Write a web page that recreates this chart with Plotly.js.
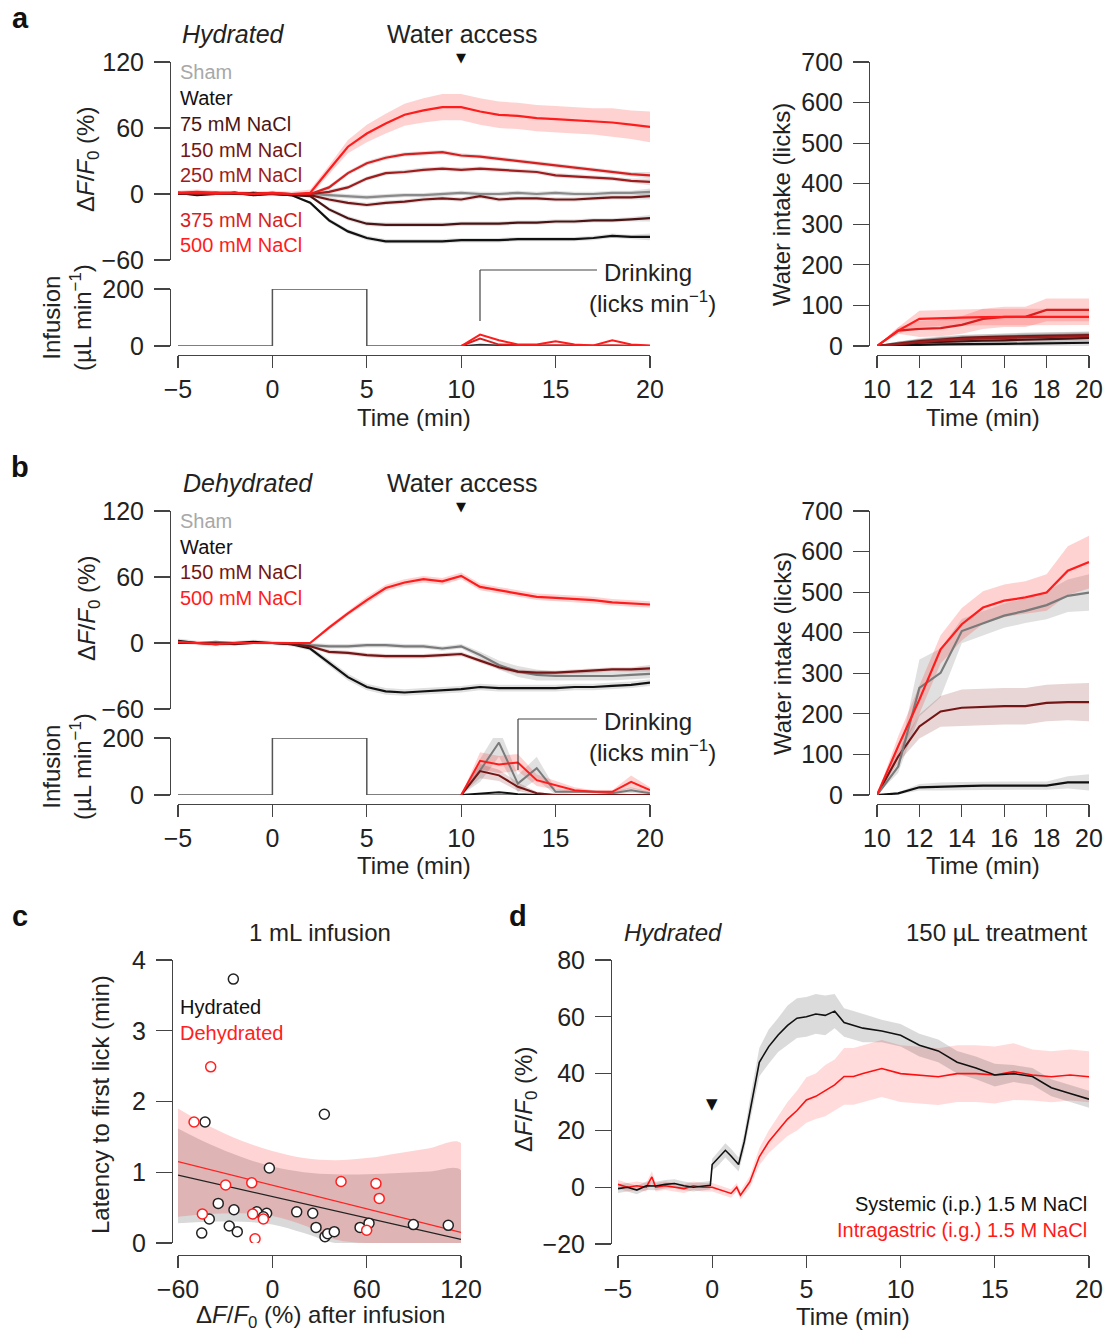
<!DOCTYPE html>
<html><head><meta charset="utf-8">
<script src="https://cdn.plot.ly/plotly-3.0.1.min.js"></script>
<style>html,body{margin:0;padding:0;background:#fff}#chart{width:1114px;height:1332px}</style>
</head><body><div id="chart"></div>
<script>
// ---------------- DATA ----------------
// Panel a / b photometry time base (min)
const tPhot = [-5,-4,-3,-2,-1,0,1,2,3,4,5,6,7,8,9,10,11,12,13,14,15,16,17,18,19,20];
// Panel a (Hydrated) dF/F0 (%)
const aSham  = [1,0,1,0,1,0,0,0,-1,-2,-3,-2,-1,-1,0,1,0,0,1,0,1,0,0,1,1,2];
const aWater = [1,-1,0,1,-1,0,-1,-8,-24,-34,-40,-43,-43,-43,-43,-42,-42,-42,-41,-41,-41,-41,-40,-38,-39,-39];
const a75    = [0,1,0,1,0,0,-1,-2,-14,-22,-27,-28,-28,-28,-28,-27,-27,-27,-26,-26,-25,-25,-24,-24,-23,-22];
const a150   = [0,1,1,0,1,0,0,-1,-5,-8,-10,-8,-7,-5,-4,-5,-2,-5,-4,-4,-5,-5,-4,-3,-3,-2];
const a250   = [1,0,1,1,0,0,0,0,2,6,14,19,20,22,23,22,23,22,21,20,17,16,15,14,12,11];
const a375   = [1,1,0,1,0,1,0,0,6,19,28,33,36,37,38,35,34,32,30,28,26,24,22,20,18,17];
const a500   = [1,2,1,1,0,1,0,1,22,43,55,64,72,76,79,79,75,72,71,69,68,67,66,65,63,61];
const a500sem= [2,2,2,2,2,2,2,3,4,6,8,9,10,11,12,12,12,12,12,12,12,12,12,13,13,14];
const aSemSmall = [1,1,1,1,1,1,1,1,2,2,2,2,2,2,2,2,2,2,2,2,2,2,2,2,2,3];

// Panel b (Dehydrated) dF/F0 (%)
const bSham  = [1,0,1,0,0,0,0,-2,-3,-3,-2,-2,-3,-3,-5,-3,-11,-20,-26,-29,-30,-30,-30,-30,-29,-28];
const bWater = [2,0,-1,0,1,0,-1,-5,-18,-31,-40,-44,-45,-44,-43,-42,-40,-41,-41,-41,-41,-40,-40,-39,-38,-36];
const b150   = [0,0,0,-1,0,0,-1,-3,-8,-9,-11,-12,-12,-12,-11,-10,-16,-22,-26,-27,-27,-26,-25,-24,-24,-23];
const b500   = [1,0,-1,0,0,0,0,0,14,27,39,50,55,58,56,61,51,48,45,42,41,40,39,37,36,35];
const bShamSem  = [1,1,1,1,1,1,1,2,2,2,2,2,2,2,2,2,3,4,5,5,4,4,4,4,4,4];
const bWaterSem = [2,2,2,2,2,2,2,2,3,3,3,3,3,3,3,3,3,3,3,3,3,3,3,3,3,3];
const b500Sem   = [1,1,1,1,1,1,1,1,2,2,3,3,3,3,3,3,3,3,3,3,3,3,3,3,3,3];

// Infusion protocol (uL/min)
const infT = [-5,0,0,5,5,20];
const infV = [0,0,200,200,0,0];

// Drinking (licks/min), 1-min bins from 10 to 20 min
const tLick = [10,11,12,13,14,15,16,17,18,19,20];
const aLick500 = [0,40,20,5,5,17,5,2,20,5,2];
const aLick375 = [0,26,5,3,2,3,2,2,3,2,0];
const aLickLow = [0,5,3,2,1,1,1,1,2,1,0];
const bLick500 = [0,120,107,114,52,34,17,11,11,46,17];
const bLick500Sem = [0,30,30,30,20,15,10,6,6,22,10];
const bLickSham = [0,86,184,40,94,11,11,11,6,17,6];
const bLickShamSem = [0,40,50,30,40,10,6,6,6,10,6];
const bLick150 = [0,84,69,29,6,0,0,0,0,2,0];
const bLick150Sem = [0,25,20,15,5,2,2,2,2,2,2];
const bLickWater = [0,5,10,3,0,0,0,0,0,0,0];

// Cumulative water intake (licks)
const tIntake = [10,11,12,13,14,15,16,17,18,19,20];
const iaSham  = [0,8,14,18,20,22,24,25,26,27,28];
const iaWater = [0,2,3,4,4,5,5,6,7,8,8];
const ia75    = [0,4,8,10,12,13,14,15,16,18,20];
const ia150   = [0,6,12,16,20,22,23,24,25,26,27];
const ia250   = [0,5,10,14,17,19,20,21,22,23,24];
const ia375   = [0,38,42,44,52,67,72,72,89,89,89];
const ia500   = [0,38,67,69,70,71,72,72,72,72,72];
const ia375Sem= [0,8,20,20,22,25,25,25,28,28,28];
const ia500Sem= [0,8,20,20,20,20,20,20,20,20,20];
const iaDarkSem=[0,3,5,6,7,7,8,8,8,8,8];
const ibSham  = [0,70,264,301,404,423,442,454,468,491,499];
const ibWater = [0,4,19,21,22,23,23,23,23,31,31];
const ib150   = [0,95,169,206,215,217,219,219,227,229,229];
const ib500   = [0,120,235,359,421,462,479,487,499,553,574];
const ibShamSem = [0,15,70,60,30,30,30,30,35,40,45];
const ibWaterSem= [0,3,8,10,10,10,10,10,10,15,20];
const ib150Sem  = [0,15,30,38,45,45,45,45,45,45,47];
const ib500Sem  = [0,25,35,35,40,40,40,40,45,60,65];

// Panel c: latency vs dF/F0 after infusion
const hydX = [-24.8,-42.8,33.1,-1.9,-34.4,-40.1,-44.9,-24.4,-27.4,-22.3,-9.9,-3.6,15.5,25.7,27.8,33.5,35.2,39.4,55.8,61.5,89.7,111.9,-5.7];
const hydY = [3.73,1.71,1.82,1.06,0.56,0.34,0.14,0.47,0.24,0.16,0.44,0.42,0.44,0.42,0.22,0.09,0.13,0.16,0.22,0.28,0.26,0.25,0.37];
const dehX = [-39.2,-49.8,-29.7,-13.1,-44.5,-12.5,-5.7,-11.0,43.7,65.9,68.0,60.0];
const dehY = [2.49,1.71,0.82,0.85,0.41,0.41,0.34,0.06,0.87,0.84,0.63,0.18];
const fitX = [-60,120];
const hydFit = [0.96,0.05];
const dehFit = [1.15,0.15];
const bandX = [-60,-40,-20,0,20,40,60,80,100,120];
const hydUp = [1.62,1.40,1.22,1.08,1.00,0.97,0.97,0.99,1.01,1.03];
const hydLo = [0.28,0.30,0.30,0.26,0.14,0,0,0,0,0];
const dehUp = [1.90,1.65,1.45,1.30,1.20,1.17,1.20,1.27,1.34,1.41];
const dehLo = [0.37,0.41,0.42,0.38,0.25,0.05,0,0,0,0];

// Panel d: 150 uL treatment
const tSys = [-5,-4.5,-4,-3.5,-3,-2.5,-2,-1.5,-1,-0.5,-0.1,0,0.3,0.7,1,1.4,1.7,2,2.5,3,3.5,4,4.5,5,5.5,6,6.5,7,7.5,8,9,10,11,12,13,14,15,16,17,18,19,20];
const sysV = [-0.5,0,-1,0.5,0.4,1,1.3,0.5,0,0.5,0.7,8,10,13,11,8,16,27,44,49.5,53.6,57,59.5,60,61,60.5,62,58,57,56,55,53.5,50,48,44,42,39.5,40,39,35,33,31];
const sysSem= [1.5,1.5,1.5,1.5,1.5,1.5,1.5,1.5,1.5,1.5,1.5,2,2.5,2.5,2.5,2.5,3,4,5,6,6,7,7,7,7,7,6,5,5,5,4,4,4,4,4,4,4,3,3,3,3,3];
const tIg = [-5,-4.5,-4,-3.5,-3.2,-3,-2.5,-2,-1.5,-1,-0.5,0,0.5,1,1.3,1.5,2,2.5,3,3.5,4,4.5,5,5.5,6,6.5,7,7.5,8,9,10,11,12,13,14,15,16,17,18,19,20];
const igV = [1,0,0.5,0,3.6,0,0.5,0,-0.5,0.5,0,0,-1,-2.2,0,-2.8,1.9,10.7,16,20,24,27,30.7,32,34,36,39,39,40,41.8,40,39.5,38.9,40,40,39.5,40.7,39.5,38.9,39.5,38.9];
const igSem = [1.5,1.5,1.5,1.5,2,1.5,1.5,1.5,1.5,1.5,1.5,1.5,1.5,1.5,1.5,1.5,2,3,4,5,6,7,8,8,9,9,10,10,10,10,10,10,10,10,10,10,10,9,9,9,9];

// Tick labels / legend text
const legendA = ['Sham','Water','75 mM NaCl','150 mM NaCl','250 mM NaCl','375 mM NaCl','500 mM NaCl'];
const legendB = ['Sham','Water','150 mM NaCl','500 mM NaCl'];

// ---------------- STYLE ----------------
const W=1114, H=1332;
const PX = x => x/W, PY = y => 1 - y/H;
const FONT = 'Liberation Sans, Arial, sans-serif';
const COL = {shamTxt:'#a8a8a8', sham:'#8a8a8a', water:'#111111', m75:'#4a1414', m150:'#741616', m250:'#a01c1c', m375:'#d81f1f', m500:'#ff1c1c'};
const AX = {showline:true, linecolor:'#444', linewidth:1.2, ticks:'outside', tickcolor:'#444', tickwidth:1.2,
  showgrid:false, zeroline:false, tickfont:{size:25, color:'#222', family:FONT}, fixedrange:true, automargin:false};
function xa(d0,d1,range,tickvals,posY){return Object.assign({},AX,{domain:[PX(d0),PX(d1)],range:range,tickvals:tickvals,anchor:'free',position:PY(posY),ticklen:12,ticklabelstandoff:0});}
function ya(d0,d1,range,tickvals,posX){return Object.assign({},AX,{domain:[PY(d1),PY(d0)],range:range,tickvals:tickvals,anchor:'free',position:PX(posX),ticklen:16,ticklabelstandoff:5});}
function xh(d0,d1,range){return {visible:false, domain:[PX(d0),PX(d1)], range:range, fixedrange:true};}

const traces = [];
function band(x, mean, sem, xr, yr, color){
  const up = mean.map((v,i)=>v+sem[i]), lo = mean.map((v,i)=>v-sem[i]);
  traces.push({x:x.concat(x.slice().reverse()), y:up.concat(lo.slice().reverse()), xaxis:xr, yaxis:yr,
    mode:'lines', fill:'toself', fillcolor:color, line:{width:0}, hoverinfo:'skip', showlegend:false});
}
function bandUL(x, up, lo, xr, yr, color){
  traces.push({x:x.concat(x.slice().reverse()), y:up.concat(lo.slice().reverse()), xaxis:xr, yaxis:yr,
    mode:'lines', fill:'toself', fillcolor:color, line:{width:0, shape:'spline'}, hoverinfo:'skip', showlegend:false});
}
function line(x, y, xr, yr, color, w){
  traces.push({x:x, y:y, xaxis:xr, yaxis:yr, mode:'lines', line:{color:color, width:w||2.2}, showlegend:false, hoverinfo:'skip'});
}
const RB='rgba(255,30,30,0.2)', GB='rgba(0,0,0,0.12)', DB='rgba(130,20,20,0.18)';

// ---- Panel a, top
band(tPhot, a500, a500sem, 'x','y', RB);
[aSham,aWater,a75,a150,a250,a375].forEach(s=>band(tPhot,s,aSemSmall,'x','y',GB));
line(tPhot,aSham,'x','y',COL.sham);
line(tPhot,aWater,'x','y',COL.water);
line(tPhot,a75,'x','y',COL.m75);
line(tPhot,a150,'x','y',COL.m150);
line(tPhot,a250,'x','y',COL.m250);
line(tPhot,a375,'x','y',COL.m375);
line(tPhot,a500,'x','y',COL.m500);
// ---- Panel a, infusion + drinking
line(infT, infV, 'x2','y2', '#555', 1.5);
line(tLick, aLickLow, 'x2','y2', '#333', 1.5);
line(tLick, aLick375, 'x2','y2', COL.m375, 2);
line(tLick, aLick500, 'x2','y2', COL.m500, 2);
// ---- Panel a, intake
band(tIntake, ia375, ia375Sem, 'x3','y3', RB);
band(tIntake, ia500, ia500Sem, 'x3','y3', RB);
[iaSham,iaWater,ia75,ia150,ia250].forEach(s=>band(tIntake,s,iaDarkSem,'x3','y3',GB));
line(tIntake, iaSham,'x3','y3',COL.sham);
line(tIntake, iaWater,'x3','y3',COL.water);
line(tIntake, ia75,'x3','y3',COL.m75);
line(tIntake, ia150,'x3','y3',COL.m150);
line(tIntake, ia250,'x3','y3',COL.m250);
line(tIntake, ia375,'x3','y3',COL.m375);
line(tIntake, ia500,'x3','y3',COL.m500);

// ---- Panel b, top
band(tPhot, bSham, bShamSem, 'x4','y4', GB);
band(tPhot, bWater, bWaterSem, 'x4','y4', GB);
band(tPhot, b150, aSemSmall, 'x4','y4', DB);
band(tPhot, b500, b500Sem, 'x4','y4', RB);
line(tPhot,bSham,'x4','y4','#7a7a7a');
line(tPhot,bWater,'x4','y4',COL.water);
line(tPhot,b150,'x4','y4',COL.m150);
line(tPhot,b500,'x4','y4',COL.m500);
// ---- Panel b, infusion + drinking
line(infT, infV, 'x5','y5', '#555', 1.5);
band(tLick, bLickSham, bLickShamSem, 'x5','y5', GB);
band(tLick, bLick500, bLick500Sem, 'x5','y5', RB);
band(tLick, bLick150, bLick150Sem, 'x5','y5', DB);
line(tLick, bLickWater, 'x5','y5', COL.water, 2);
line(tLick, bLickSham, 'x5','y5', '#7a7a7a', 2);
line(tLick, bLick150, 'x5','y5', COL.m150, 2);
line(tLick, bLick500, 'x5','y5', COL.m500, 2);
// ---- Panel b, intake
band(tIntake, ibSham, ibShamSem, 'x6','y6', GB);
band(tIntake, ibWater, ibWaterSem, 'x6','y6', GB);
band(tIntake, ib150, ib150Sem, 'x6','y6', DB);
band(tIntake, ib500, ib500Sem, 'x6','y6', RB);
line(tIntake, ibWater,'x6','y6',COL.water);
line(tIntake, ib150,'x6','y6',COL.m150);
line(tIntake, ibSham,'x6','y6','#7a7a7a');
line(tIntake, ib500,'x6','y6',COL.m500);

// ---- Panel c
bandUL(bandX, hydUp, hydLo, 'x7','y7', 'rgba(0,0,0,0.15)');
bandUL(bandX, dehUp, dehLo, 'x7','y7', 'rgba(255,0,0,0.17)');
line(fitX, hydFit, 'x7','y7', '#222', 1.3);
line(fitX, dehFit, 'x7','y7', '#ff2020', 1.3);
traces.push({x:hydX, y:hydY, xaxis:'x7', yaxis:'y7', mode:'markers', marker:{size:10, color:'#fff', line:{color:'#222', width:1.5}}, showlegend:false, hoverinfo:'skip'});
traces.push({x:dehX, y:dehY, xaxis:'x7', yaxis:'y7', mode:'markers', marker:{size:10, color:'#fff', line:{color:'#ff2020', width:1.5}}, showlegend:false, hoverinfo:'skip'});

// ---- Panel d
band(tIg, igV, igSem, 'x8','y8', 'rgba(255,30,30,0.16)');
band(tSys, sysV, sysSem, 'x8','y8', 'rgba(0,0,0,0.14)');
line(tIg, igV, 'x8','y8', '#ff1010', 1.6);
line(tSys, sysV, 'x8','y8', '#111', 1.6);

// ---------------- LAYOUT ----------------
const T5 = [-5,0,5,10,15,20], TI = [10,12,14,16,18,20];
const layout = {
  width:W, height:H, margin:{l:0,r:0,t:0,b:0}, paper_bgcolor:'#fff', plot_bgcolor:'rgba(0,0,0,0)',
  font:{family:FONT, color:'#222'}, showlegend:false,
  xaxis: xh(178,650,[-5,20]),
  yaxis: ya(62,260,[-60,120],[-60,0,60,120],170),
  xaxis2: xa(178,650,[-5,20],T5,355),
  yaxis2: ya(289,346,[0,200],[0,200],170),
  xaxis3: xa(877,1089,[10,20],TI,355),
  yaxis3: ya(62,346,[0,700],[0,100,200,300,400,500,600,700],869),
  xaxis4: xh(178,650,[-5,20]),
  yaxis4: ya(511,709,[-60,120],[-60,0,60,120],170),
  xaxis5: xa(178,650,[-5,20],T5,804),
  yaxis5: ya(738,795,[0,200],[0,200],170),
  xaxis6: xa(877,1089,[10,20],TI,804),
  yaxis6: ya(511,795,[0,700],[0,100,200,300,400,500,600,700],869),
  xaxis7: xa(178,461,[-60,120],[-60,0,60,120],1255),
  yaxis7: ya(960,1243,[0,4],[0,1,2,3,4],172),
  xaxis8: xa(618,1089,[-5,20],T5,1255),
  yaxis8: ya(960,1244,[-20,80],[-20,0,20,40,60,80],611),
  annotations: [], shapes: []
};
function ann(text,x,y,o){
  layout.annotations.push(Object.assign({text:text, x:PX(x), y:PY(y), xref:'paper', yref:'paper', showarrow:false,
    xanchor:'center', yanchor:'middle', font:{size:24, color:'#222', family:FONT}}, o||{}));
}
function seg(x0,y0,x1,y1,c){layout.shapes.push({type:'line', xref:'paper', yref:'paper', x0:PX(x0), y0:PY(y0), x1:PX(x1), y1:PY(y1), line:{color:c||'#444', width:1.2}});}
const DF = 'Δ<i>F</i>/<i>F</i><sub>0</sub> (%)';
const INF = 'Infusion<br>(µL min<sup>−1</sup>)';
// panel letters
[['a',20,18],['b',20,467],['c',20,916],['d',518,916]].forEach(([t,x,y])=>ann('<b>'+t+'</b>',x,y,{font:{size:29,color:'#111',family:FONT}}));
// panel a/b headers
ann('<i>Hydrated</i>',233,34,{font:{size:25,color:'#222',family:FONT}});
ann('Water access',462,34,{font:{size:25,color:'#222',family:FONT}});
ann('▼',461,57,{font:{size:13,color:'#111',family:'DejaVu Sans'}});
ann('<i>Dehydrated</i>',248,483,{font:{size:25,color:'#222',family:FONT}});
ann('Water access',462,483,{font:{size:25,color:'#222',family:FONT}});
ann('▼',461,506,{font:{size:13,color:'#111',family:'DejaVu Sans'}});
// legends
const colA = [COL.shamTxt,COL.water,COL.m75,COL.m150,COL.m250,COL.m375,COL.m500];
const yA = [72,98,124,150,175,220,245];
legendA.forEach((t,i)=>ann(t,178,yA[i],{xanchor:'left', font:{size:20,color:colA[i],family:FONT}}));
const colB = [COL.shamTxt,COL.water,COL.m150,COL.m500];
const yB = [521,547,572,598];
legendB.forEach((t,i)=>ann(t,178,yB[i],{xanchor:'left', font:{size:20,color:colB[i],family:FONT}}));
// axis titles
ann(DF,88,160,{textangle:-90});
ann(INF,67,318,{textangle:-90});
ann('Water intake (licks)',782,205,{textangle:-90});
ann('Time (min)',414,417);
ann('Time (min)',983,417);
ann(DF,88,609,{textangle:-90});
ann(INF,67,767,{textangle:-90});
ann('Water intake (licks)',782,654,{textangle:-90});
ann('Time (min)',414,866);
ann('Time (min)',983,866);
// drinking brackets
seg(480,270,597,270); seg(480,270,480,321);
ann('Drinking',602,272,{xanchor:'left'});
ann('(licks min<sup>−1</sup>)',718,302,{xanchor:'right'});
seg(518,719,597,719); seg(518,719,518,770);
ann('Drinking',602,721,{xanchor:'left'});
ann('(licks min<sup>−1</sup>)',718,751,{xanchor:'right'});
// panel c
ann('1 mL infusion',320,932);
ann('Hydrated',178,1007,{xanchor:'left', font:{size:20,color:'#111',family:FONT}});
ann('Dehydrated',178,1033,{xanchor:'left', font:{size:20,color:'#ff2020',family:FONT}});
ann('Latency to first lick (min)',100,1105,{textangle:-90});
ann(DF+' after infusion',320,1316);
// panel d
ann('<i>Hydrated</i>',673,932);
ann('150 µL treatment',1089,932,{xanchor:'right'});
ann('▼',712,1104,{font:{size:15,color:'#111',family:'DejaVu Sans'}});
ann('Systemic (i.p.) 1.5 M NaCl',1089,1204,{xanchor:'right', font:{size:20,color:'#111',family:FONT}});
ann('Intragastric (i.g.) 1.5 M NaCl',1089,1230,{xanchor:'right', font:{size:20,color:'#ff1a1a',family:FONT}});
ann(DF,525,1100,{textangle:-90});
ann('Time (min)',853,1316);

Plotly.newPlot('chart', traces, layout, {staticPlot:true, displayModeBar:false});
</script></body></html>
